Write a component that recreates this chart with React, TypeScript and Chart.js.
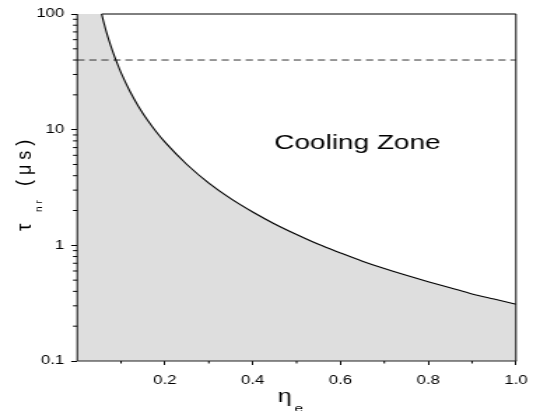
import React, { useEffect, useRef } from 'react';
import { Chart, registerables } from 'chart.js';

Chart.register(...registerables);

// ---- data ----
const etaValues = [0.0557, 0.06, 0.07, 0.08, 0.09, 0.10, 0.12, 0.14, 0.16, 0.18, 0.20, 0.25, 0.30, 0.35, 0.40, 0.45, 0.50, 0.55, 0.60, 0.65, 0.70, 0.75, 0.80, 0.85, 0.90, 0.95, 1.00];
const tauValues = [100, 86, 63, 48.5, 38.3, 31, 21.5, 15.8, 12.1, 9.6, 7.8, 5.0, 3.45, 2.53, 1.94, 1.53, 1.24, 1.02, 0.86, 0.73, 0.63, 0.55, 0.485, 0.43, 0.38, 0.343, 0.31];
const thresholdTau = 40;
const xRange = [0, 1];
const yRange = [0.1, 100];
const xTickValues = [0.2, 0.4, 0.6, 0.8, 1.0];
const xMinorTickValues = [0.1, 0.3, 0.5, 0.7, 0.9];
const yTickValues = [0.1, 1, 10, 100];
const yMinorTickValues = [0.2, 0.3, 0.4, 0.5, 0.6, 0.7, 0.8, 0.9, 2, 3, 4, 5, 6, 7, 8, 9, 20, 30, 40, 50, 60, 70, 80, 90];
const zoneLabel = 'Cooling Zone';

// canvas is drawn narrower and stretched horizontally (like the reference)
const CW = 386;
const CH = 411;
const SW = 540;
const FONT = '"Liberation Sans", Arial, Helvetica, sans-serif';
const SHADE = '#dedede';

const decorPlugin = {
  id: 'decor',
  afterDatasetsDraw(chart: any) {
    const { ctx, chartArea: a, scales } = chart;
    const x = scales.x;
    const y = scales.y;
    ctx.save();
    // frame
    ctx.strokeStyle = '#000';
    ctx.lineWidth = 1;
    ctx.beginPath();
    ctx.moveTo(a.left, a.top);
    ctx.lineTo(a.left, a.bottom);
    ctx.moveTo(a.right, a.top);
    ctx.lineTo(a.right, a.bottom);
    ctx.moveTo(x.getPixelForValue(etaValues[0]), a.top);
    ctx.lineTo(a.right, a.top);
    ctx.stroke();
    ctx.strokeStyle = '#222';
    ctx.lineWidth = 1.2;
    ctx.beginPath();
    ctx.moveTo(a.left, a.bottom);
    ctx.lineTo(a.right + 0.5, a.bottom);
    ctx.stroke();
    // minor ticks
    ctx.strokeStyle = '#000';
    ctx.lineWidth = 1;
    ctx.beginPath();
    xMinorTickValues.forEach((v) => {
      const px = x.getPixelForValue(v);
      ctx.moveTo(px, a.bottom);
      ctx.lineTo(px, a.bottom + 2.5);
    });
    yMinorTickValues.forEach((v) => {
      const py = y.getPixelForValue(v);
      ctx.moveTo(a.left, py);
      ctx.lineTo(a.left - 3, py);
    });
    ctx.stroke();
    ctx.restore();
  },
  afterDraw(chart: any) {
    const { ctx } = chart;
    ctx.save();
    ctx.fillStyle = '#000';
    ctx.textAlign = 'left';
    ctx.textBaseline = 'alphabetic';
    // zone label
    ctx.font = `20px ${FONT}`;
    ctx.fillText(zoneLabel, 196, 149);
    // x title
    ctx.font = `18px ${FONT}`;
    ctx.fillText('η', 198.5, 402);
    ctx.font = `11px ${FONT}`;
    ctx.fillText('e', 210.5, 412);
    // y title (rotated, compensated for the horizontal stretch)
    ctx.translate(21.6, 231);
    ctx.rotate(-Math.PI / 2);
    ctx.scale(1, 0.8);
    ctx.font = `19px ${FONT}`;
    ctx.fillText('τ', 0, 0);
    ctx.font = `10px ${FONT}`;
    (ctx as any).letterSpacing = '3px';
    ctx.fillText('nr', 19, 11);
    ctx.font = `18px ${FONT}`;
    (ctx as any).letterSpacing = '5px';
    ctx.fillText('(μs)', 45, 0);
    (ctx as any).letterSpacing = '0px';
    ctx.restore();
  },
};

export default function App() {
  const ref = useRef<HTMLCanvasElement | null>(null);

  useEffect(() => {
    if (!ref.current) return;
    const curve = etaValues.map((e, i) => ({ x: e, y: tauValues[i] }));
    // shaded region left of the curve, tucked slightly under the curve so no seam shows
    const underlay = [
      { x: xRange[0], y: tauValues[0] },
      { x: etaValues[0], y: tauValues[0] },
      ...curve.slice(1).map((p) => ({ x: p.x, y: p.y * 0.9 })),
    ];
    const dashed = [
      { x: xRange[0], y: thresholdTau },
      { x: xRange[1], y: thresholdTau },
    ];
    const tickFont = { family: FONT, size: 12 };
    const chart = new Chart(ref.current, {
      type: 'line',
      data: {
        datasets: [
          {
            data: underlay,
            fill: 'start',
            backgroundColor: SHADE,
            borderColor: 'rgba(0,0,0,0)',
            borderWidth: 0,
            pointRadius: 0,
            order: 3,
          },
          {
            data: dashed,
            fill: false,
            borderColor: '#333',
            borderWidth: 1,
            borderDash: [5.2, 3.4],
            pointRadius: 0,
            order: 2,
          },
          {
            data: curve,
            fill: 'start',
            backgroundColor: SHADE,
            borderColor: '#000',
            borderWidth: 1.1,
            cubicInterpolationMode: 'monotone',
            pointRadius: 0,
            order: 1,
          },
        ],
      } as any,
      options: {
        responsive: false,
        animation: false,
        devicePixelRatio: 1,
        events: [],
        layout: { padding: { left: 0, right: CW - 368.8, top: 14, bottom: 0 } },
        plugins: {
          legend: { display: false },
          tooltip: { enabled: false },
          filler: { drawTime: 'beforeDatasetsDraw' },
        } as any,
        scales: {
          x: {
            type: 'linear',
            min: xRange[0],
            max: xRange[1],
            afterFit: (s: any) => {
              s.height = 50;
            },
            afterBuildTicks: (s: any) => {
              s.ticks = xTickValues.map((v) => ({ value: v }));
            },
            ticks: {
              callback: (v: any) => Number(v).toFixed(1),
              font: tickFont,
              color: '#000',
              padding: 8,
              maxRotation: 0,
              autoSkip: false,
            },
            grid: { drawOnChartArea: false, drawTicks: true, tickLength: 4, tickColor: '#000' },
            border: { display: false },
          },
          y: {
            type: 'logarithmic',
            min: yRange[0],
            max: yRange[1],
            afterFit: (s: any) => {
              s.width = 55.2;
            },
            afterBuildTicks: (s: any) => {
              s.ticks = yTickValues.map((v) => ({ value: v }));
            },
            ticks: {
              callback: (v: any) => String(v),
              font: tickFont,
              color: '#000',
              padding: 5,
              autoSkip: false,
            },
            grid: { drawOnChartArea: false, drawTicks: true, tickLength: 4.3, tickColor: '#000' },
            border: { display: false },
          },
        } as any,
      },
      plugins: [decorPlugin],
    });
    return () => chart.destroy();
  }, []);

  return (
    <div style={{ position: 'absolute', left: 0, top: 0, width: SW, height: CH, background: '#fff' }}>
      <canvas
        ref={ref}
        width={CW}
        height={CH}
        style={{ width: `${SW}px`, height: `${CH}px`, display: 'block' }}
      />
    </div>
  );
}
